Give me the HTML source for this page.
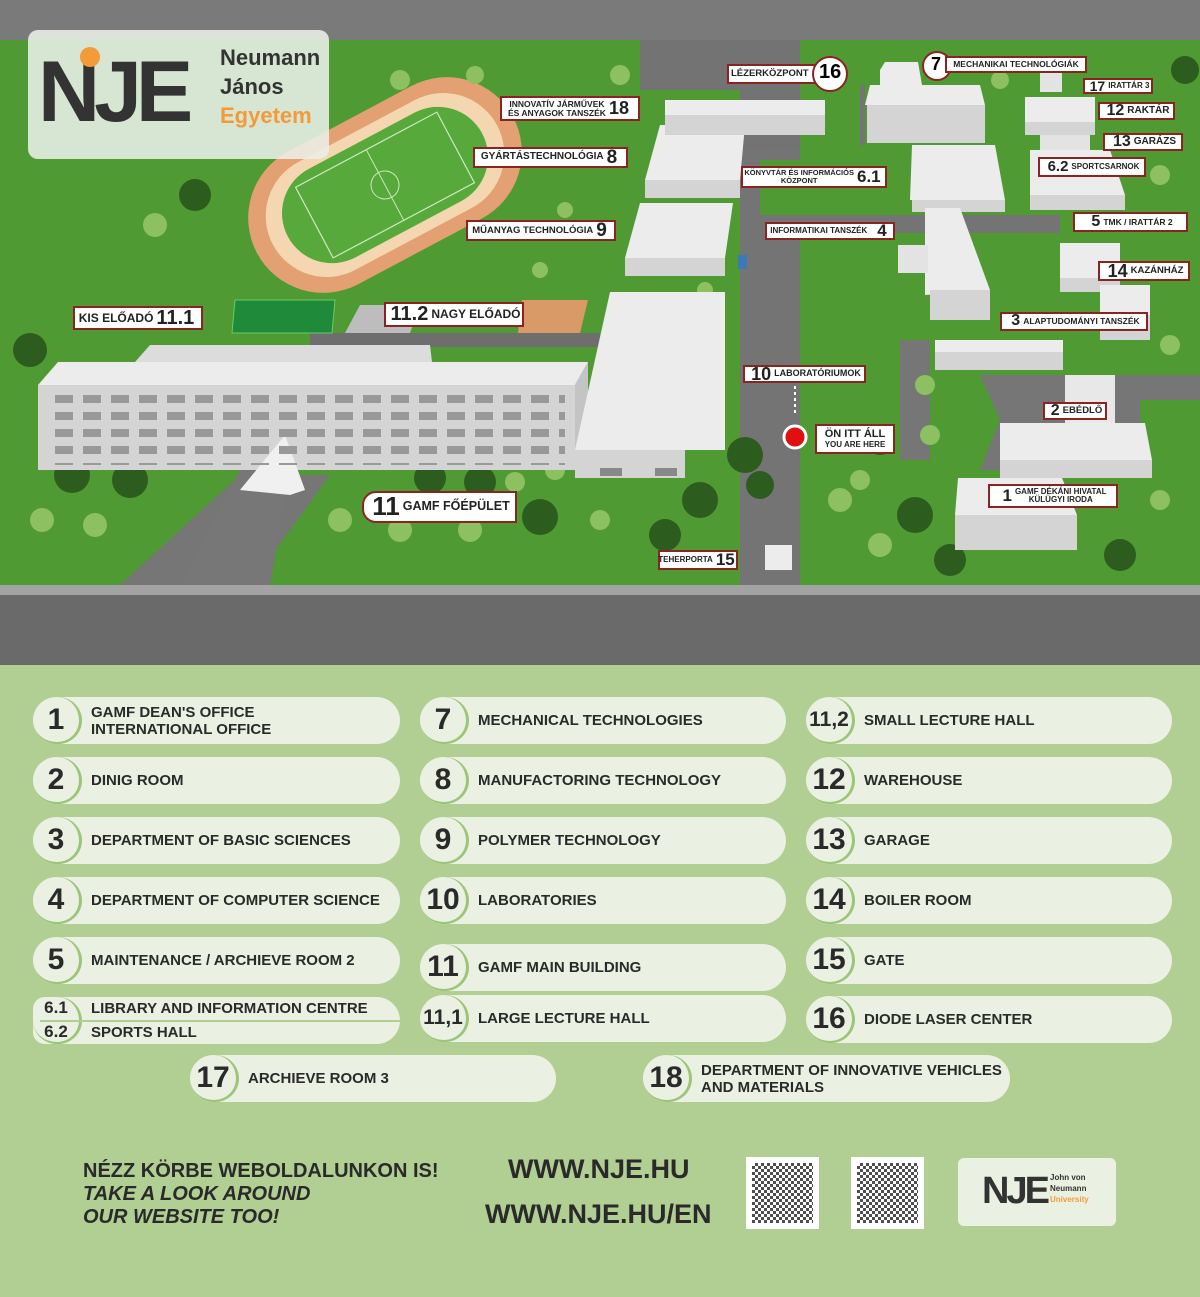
<!DOCTYPE html>
<html><head><meta charset="utf-8">
<style>
*{margin:0;padding:0;box-sizing:border-box}
body{width:1200px;height:1297px;position:relative;overflow:hidden;font-family:"Liberation Sans",sans-serif;background:#b1cf92}
.a{position:absolute}
.lb{position:absolute;background:#fff;border:2px solid #8b2323;font-weight:bold;color:#222;font-size:10px;line-height:1.05;display:flex;align-items:center;justify-content:center;white-space:nowrap;padding:0 2px}
.lb b{font-size:19px;margin:0 3px}
.nc{position:absolute;background:#fff;border:2px solid #8b2323;border-radius:50%}
.pill{position:absolute;height:47px;background:#eaf1e3;border-radius:24px;font-weight:bold;font-size:15px;color:#2a2a2a;display:flex;align-items:center}
.pill .n{width:48px;height:47px;border-radius:50%;border:2px solid #9cc57a;border-left:none;border-top:none;display:flex;align-items:center;justify-content:center;font-size:30px;color:#2a2a2a;flex:none;margin-right:10px;background:#eaf1e3;box-shadow:1px 0 0 #9cc57a}
.pill .t{line-height:17px}
</style></head><body>
<svg class="a" style="left:0;top:0" width="1200" height="665">
<rect width="1200" height="665" fill="#737373"/>
<rect x="0" y="0" width="1200" height="40" fill="#7a7a7a"/>
<polygon points="0,40 640,40 640,585 0,585" fill="#4f9a33"/>
<polygon points="640,90 740,90 740,585 640,585" fill="#4f9a33"/>
<polygon points="800,40 1200,40 1200,585 800,585" fill="#4f9a33"/>
<polygon points="740,150 800,150 800,585 740,585" fill="#747474"/>
<rect x="740" y="215" width="320" height="18" fill="#747474"/>
<polygon points="760,160 905,160 905,215 760,215" fill="#4f9a33"/>
<polygon points="980,375 1200,375 1200,400 1140,400 1140,470 980,470 1000,420" fill="#767676"/>
<rect x="900" y="340" width="30" height="120" fill="#767676"/>
<polygon points="120,585 240,475 330,475 250,585" fill="#767676"/>
<polygon points="240,470 290,470 270,585 180,585" fill="#777"/>
<rect x="310" y="333" width="290" height="14" fill="#6e6e6e"/>
<rect x="860" y="85" width="5" height="60" fill="#747474"/>
<g transform="rotate(-28 385 185)"><rect x="240" y="110" width="290" height="150" rx="75" fill="#e3a072"/><rect x="258" y="124" width="254" height="122" rx="61" fill="#f4d7b0"/><rect x="275" y="135" width="220" height="100" rx="50" fill="#56a93a"/><rect x="305" y="145" width="160" height="80" fill="none" stroke="#cfe8c0" stroke-width="1.2"/><line x1="385" y1="145" x2="385" y2="225" stroke="#cfe8c0"/><circle cx="385" cy="185" r="14" fill="none" stroke="#cfe8c0"/></g>
<polygon points="235,300 335,300 332,333 232,333" fill="#1e8a3a" stroke="#6c6" stroke-width="1"/>
<polygon points="360,305 420,305 410,333 345,333" fill="#bdbdbd"/>
<polygon points="522,300 588,300 580,333 518,333" fill="#d99a68"/>
<g fill="#2d5d1e">
<circle cx="72" cy="475" r="18"/><circle cx="130" cy="480" r="18"/><circle cx="195" cy="195" r="16"/><circle cx="30" cy="350" r="17"/><circle cx="430" cy="478" r="16"/><circle cx="480" cy="482" r="16"/><circle cx="540" cy="517" r="18"/><circle cx="700" cy="500" r="18"/><circle cx="665" cy="535" r="16"/><circle cx="745" cy="455" r="18"/><circle cx="915" cy="515" r="18"/><circle cx="950" cy="560" r="16"/><circle cx="1120" cy="555" r="16"/><circle cx="880" cy="440" r="15"/><circle cx="760" cy="485" r="14"/><circle cx="1185" cy="70" r="14"/>
</g>
<g fill="#8cc060">
<circle cx="42" cy="520" r="12"/><circle cx="95" cy="525" r="12"/><circle cx="155" cy="225" r="12"/><circle cx="400" cy="80" r="10"/><circle cx="475" cy="75" r="9"/><circle cx="620" cy="75" r="10"/><circle cx="340" cy="520" r="12"/><circle cx="400" cy="530" r="12"/><circle cx="470" cy="530" r="12"/><circle cx="515" cy="482" r="10"/><circle cx="555" cy="470" r="10"/><circle cx="600" cy="520" r="10"/><circle cx="840" cy="500" r="12"/><circle cx="880" cy="545" r="12"/><circle cx="860" cy="480" r="10"/><circle cx="925" cy="385" r="10"/><circle cx="930" cy="435" r="10"/><circle cx="1170" cy="345" r="10"/><circle cx="1160" cy="175" r="10"/><circle cx="1000" cy="80" r="9"/><circle cx="1070" cy="265" r="9"/><circle cx="1160" cy="500" r="10"/><circle cx="540" cy="270" r="8"/><circle cx="565" cy="210" r="8"/><circle cx="705" cy="290" r="8"/>
</g>
<g>
<polygon points="135,362 150,345 430,345 432,362" fill="#dcdcdc"/>
<polygon points="38,385 58,362 588,362 575,385" fill="#ececec"/>
<rect x="38" y="385" width="537" height="85" fill="#d4d4d4"/>
<polygon points="575,385 588,362 588,455 575,470" fill="#c4c4c4"/>
<polygon points="575,450 610,292 725,292 725,450" fill="#ececec"/>
<rect x="575" y="450" width="110" height="28" fill="#d4d4d4"/>
<rect x="600" y="468" width="22" height="8" fill="#888"/><rect x="655" y="468" width="22" height="8" fill="#888"/>
<polygon points="625,258 640,203 733,203 725,258" fill="#ececec"/><rect x="625" y="258" width="100" height="18" fill="#d4d4d4"/>
<polygon points="645,180 660,125 745,125 740,180" fill="#ececec"/><rect x="645" y="180" width="95" height="18" fill="#d4d4d4"/>
<rect x="665" y="100" width="160" height="15" fill="#ececec"/><rect x="665" y="115" width="160" height="20" fill="#d4d4d4"/>
<polygon points="865,105 870,85 980,85 985,105" fill="#ececec"/><rect x="867" y="105" width="118" height="38" fill="#d4d4d4"/>
<polygon points="880,70 885,62 918,62 922,85 880,85" fill="#ececec"/>
<polygon points="910,200 912,145 995,145 1005,200" fill="#ececec"/><rect x="912" y="200" width="93" height="12" fill="#d4d4d4"/>
<polygon points="925,295 925,208 960,208 990,290" fill="#ececec"/><rect x="930" y="290" width="60" height="30" fill="#d4d4d4"/>
<rect x="898" y="245" width="30" height="28" fill="#e3e3e3"/>
<rect x="935" y="340" width="128" height="12" fill="#ececec"/><rect x="935" y="352" width="128" height="18" fill="#d4d4d4"/>
<polygon points="1000,445 1000,423 1145,423 1152,460 1000,460" fill="#ececec"/><rect x="1000" y="460" width="152" height="18" fill="#d4d4d4"/>
<rect x="1065" y="375" width="50" height="48" fill="#e8e8e8"/>
<polygon points="955,515 958,478 1062,478 1077,515" fill="#ececec"/><rect x="955" y="515" width="122" height="35" fill="#d4d4d4"/>
<rect x="1060" y="243" width="60" height="35" fill="#ececec"/><rect x="1060" y="278" width="60" height="14" fill="#d4d4d4"/>
<rect x="1100" y="285" width="50" height="30" fill="#ececec"/><rect x="1100" y="315" width="50" height="25" fill="#d4d4d4"/>
<rect x="1025" y="97" width="70" height="25" fill="#ececec"/><rect x="1025" y="122" width="70" height="13" fill="#d4d4d4"/>
<rect x="1040" y="135" width="50" height="15" fill="#e3e3e3"/>
<polygon points="1030,195 1030,150 1110,150 1125,195" fill="#ececec"/><rect x="1030" y="195" width="95" height="15" fill="#d4d4d4"/>
<rect x="1040" y="72" width="22" height="20" fill="#e3e3e3"/>
<rect x="765" y="545" width="27" height="25" fill="#ececec"/>
<polygon points="240,490 285,435 305,490 290,495" fill="#f0f0f0"/>
<rect x="738" y="255" width="9" height="14" fill="#3a7ab8"/>
</g>
<rect x="0" y="585" width="1200" height="10" fill="#a3a3a3"/>
<rect x="0" y="595" width="1200" height="70" fill="#6a6a6a"/>
<circle cx="795" cy="437" r="11" fill="#e01010" stroke="#fff" stroke-width="3"/>
<line x1="795" y1="380" x2="795" y2="415" stroke="#fff" stroke-width="2" stroke-dasharray="3,3"/>
</svg>
<div class="a" style="left:55px;top:395px;width:510px;height:70px;background:repeating-linear-gradient(90deg,#999 0 18px,transparent 18px 28px),transparent;-webkit-mask:repeating-linear-gradient(180deg,#000 0 8px,transparent 8px 17px);mask:repeating-linear-gradient(180deg,#000 0 8px,transparent 8px 17px)"></div>
<div class="a" style="left:28px;top:30px;width:301px;height:129px;background:rgba(235,240,232,.88);border-radius:10px"></div>
<div class="a" style="left:38px;top:44px;font-size:86px;font-weight:bold;color:#333;letter-spacing:-6px;line-height:96px">NJE</div>
<div class="a" style="left:80px;top:47px;width:20px;height:20px;border-radius:50%;background:#f39a3a"></div>
<div class="a" style="left:220px;top:43px;font-size:22px;font-weight:bold;color:#333;line-height:29px">Neumann<br>János<br><span style="color:#f39a3a">Egyetem</span></div>
<div class="lb" style="left:727px;top:64px;width:96px;height:20px;font-size:9.5px;justify-content:flex-start">LÉZERKÖZPONT</div><div class="nc" style="left:812px;top:56px;width:36px;height:36px"></div><div class="a" style="left:819px;top:61px;font:bold 20px 'Liberation Sans'">16</div>
<div class="nc" style="left:922px;top:51px;width:30px;height:30px"></div><div class="lb" style="left:945px;top:56px;width:142px;height:17px;font-size:8.5px">MECHANIKAI TECHNOLÓGIÁK</div><div class="a" style="left:931px;top:54px;font:bold 18px 'Liberation Sans'">7</div>
<div class="lb" style="left:1083px;top:78px;width:70px;height:16px;font-size:8px"><b style="font-size:14px">17</b>IRATTÁR 3</div>
<div class="lb" style="left:1098px;top:102px;width:77px;height:18px;font-size:10px"><b style="font-size:16px">12</b>RAKTÁR</div>
<div class="lb" style="left:1103px;top:133px;width:80px;height:18px;font-size:10px"><b style="font-size:16px">13</b>GARÁZS</div>
<div class="lb" style="left:1038px;top:157px;width:108px;height:20px;font-size:8px"><b style="font-size:15px">6.2</b>SPORTCSARNOK</div>
<div class="lb" style="left:1073px;top:212px;width:115px;height:20px;font-size:8.5px"><b style="font-size:16px">5</b>TMK / IRATTÁR 2</div>
<div class="lb" style="left:1098px;top:261px;width:92px;height:20px;font-size:9.5px"><b style="font-size:18px">14</b>KAZÁNHÁZ</div>
<div class="lb" style="left:1000px;top:312px;width:148px;height:19px;font-size:8.5px"><b style="font-size:16px">3</b>ALAPTUDOMÁNYI TANSZÉK</div>
<div class="lb" style="left:1043px;top:402px;width:64px;height:18px;font-size:9.5px"><b style="font-size:16px">2</b>EBÉDLŐ</div>
<div class="lb" style="left:988px;top:484px;width:130px;height:24px;font-size:8px"><b style="font-size:17px">1</b><span style="text-align:center">GAMF DÉKÁNI HIVATAL<br>KÜLÜGYI IRODA</span></div>
<div class="lb" style="left:743px;top:365px;width:123px;height:18px;font-size:9px"><b style="font-size:18px">10</b>LABORATÓRIUMOK</div>
<div class="lb" style="left:815px;top:424px;width:80px;height:30px;font-size:11px;flex-direction:column">ÖN ITT ÁLL<span style="font-size:8px">YOU ARE HERE</span></div>
<div class="lb" style="left:765px;top:222px;width:130px;height:18px;font-size:8px">INFORMATIKAI TANSZÉK<b style="font-size:17px;margin-left:10px">4</b></div>
<div class="lb" style="left:741px;top:166px;width:146px;height:22px;font-size:7.5px"><span style="text-align:center">KÖNYVTÁR ÉS INFORMÁCIÓS<br>KÖZPONT</span><b style="font-size:17px">6.1</b></div>
<div class="lb" style="left:500px;top:96px;width:140px;height:25px;font-size:8.5px"><span style="text-align:center">INNOVATÍV JÁRMŰVEK<br>ÉS ANYAGOK TANSZÉK</span><b style="font-size:18px">18</b></div>
<div class="lb" style="left:473px;top:147px;width:155px;height:21px;font-size:10px">GYÁRTÁSTECHNOLÓGIA<b style="font-size:19px">8</b></div>
<div class="lb" style="left:466px;top:220px;width:150px;height:21px;font-size:9.5px">MŰANYAG TECHNOLÓGIA<b style="font-size:19px">9</b></div>
<div class="lb" style="left:73px;top:306px;width:130px;height:24px;font-size:12px">KIS ELŐADÓ<b style="font-size:20px">11.1</b></div>
<div class="lb" style="left:384px;top:302px;width:140px;height:25px;font-size:12px"><b style="font-size:20px">11.2</b>NAGY ELŐADÓ</div>
<div class="lb" style="left:362px;top:491px;width:155px;height:32px;font-size:12.5px;border-radius:14px 0 0 14px"><b style="font-size:26px">11</b>GAMF FŐÉPÜLET</div>
<div class="lb" style="left:658px;top:550px;width:80px;height:20px;font-size:8px">TEHERPORTA<b style="font-size:17px">15</b></div>
<div class="pill" style="left:33px;top:697px;width:367px"><span class="n">1</span><span class="t">GAMF DEAN'S OFFICE<br>INTERNATIONAL OFFICE</span></div>
<div class="pill" style="left:33px;top:757px;width:367px"><span class="n">2</span>DINIG ROOM</div>
<div class="pill" style="left:33px;top:817px;width:367px"><span class="n">3</span>DEPARTMENT OF BASIC SCIENCES</div>
<div class="pill" style="left:33px;top:877px;width:367px"><span class="n">4</span>DEPARTMENT OF COMPUTER SCIENCE</div>
<div class="pill" style="left:33px;top:937px;width:367px"><span class="n">5</span>MAINTENANCE / ARCHIEVE ROOM 2</div>
<div class="pill" style="left:33px;top:997px;width:367px;border-radius:12px 24px 24px 12px"><span class="n" style="font-size:17px;line-height:24px;flex-direction:column">6.1<br>6.2</span><span class="t" style="line-height:24px">LIBRARY AND INFORMATION CENTRE<br>SPORTS HALL</span></div>
<div class="a" style="left:40px;top:1020px;width:360px;height:2px;background:#b1cf92"></div>
<div class="pill" style="left:420px;top:697px;width:366px"><span class="n">7</span>MECHANICAL TECHNOLOGIES</div>
<div class="pill" style="left:420px;top:757px;width:366px"><span class="n">8</span>MANUFACTORING TECHNOLOGY</div>
<div class="pill" style="left:420px;top:817px;width:366px"><span class="n">9</span>POLYMER TECHNOLOGY</div>
<div class="pill" style="left:420px;top:877px;width:366px"><span class="n">10</span>LABORATORIES</div>
<div class="pill" style="left:420px;top:944px;width:366px"><span class="n">11</span>GAMF MAIN BUILDING</div>
<div class="pill" style="left:420px;top:995px;width:366px"><span class="n" style="font-size:21px">11,1</span>LARGE LECTURE HALL</div>
<div class="pill" style="left:806px;top:697px;width:366px"><span class="n" style="font-size:21px">11,2</span>SMALL LECTURE HALL</div>
<div class="pill" style="left:806px;top:757px;width:366px"><span class="n">12</span>WAREHOUSE</div>
<div class="pill" style="left:806px;top:817px;width:366px"><span class="n">13</span>GARAGE</div>
<div class="pill" style="left:806px;top:877px;width:366px"><span class="n">14</span>BOILER ROOM</div>
<div class="pill" style="left:806px;top:937px;width:366px"><span class="n">15</span>GATE</div>
<div class="pill" style="left:806px;top:996px;width:366px"><span class="n">16</span>DIODE LASER CENTER</div>
<div class="pill" style="left:190px;top:1055px;width:366px"><span class="n">17</span>ARCHIEVE ROOM 3</div>
<div class="pill" style="left:643px;top:1055px;width:367px"><span class="n">18</span><span class="t">DEPARTMENT OF INNOVATIVE VEHICLES<br>AND MATERIALS</span></div>
<div class="a" style="left:83px;top:1160px;font-size:20px;font-weight:bold;color:#2a2a2a;line-height:23px">NÉZZ KÖRBE WEBOLDALUNKON IS!<br><i>TAKE A LOOK AROUND<br>OUR WEBSITE TOO!</i></div>
<div class="a" style="left:508px;top:1154px;font-size:27px;font-weight:bold;color:#2a2a2a">WWW.NJE.HU</div>
<div class="a" style="left:485px;top:1199px;font-size:27px;font-weight:bold;color:#2a2a2a">WWW.NJE.HU/EN</div>
<div class="a" style="left:746px;top:1157px;width:73px;height:72px;background:#fff;padding:6px"><div style="width:100%;height:100%;background:repeating-conic-gradient(#222 0 25%,#fff 0 50%) 0 0/6px 6px;opacity:.8"></div></div>
<div class="a" style="left:851px;top:1157px;width:73px;height:72px;background:#fff;padding:6px"><div style="width:100%;height:100%;background:repeating-conic-gradient(#222 0 25%,#fff 0 50%) 0 0/6px 6px;opacity:.8"></div></div>
<div class="a" style="left:958px;top:1158px;width:158px;height:68px;background:#eaf1e3;border-radius:6px"></div>
<div class="a" style="left:982px;top:1168px;font-size:38px;font-weight:bold;color:#333;letter-spacing:-3px;line-height:46px">NJE</div>
<div class="a" style="left:1050px;top:1172px;font-size:8px;font-weight:bold;color:#333;line-height:11px">John von<br>Neumann<br><span style="color:#f39a3a">University</span></div>
</body></html>
